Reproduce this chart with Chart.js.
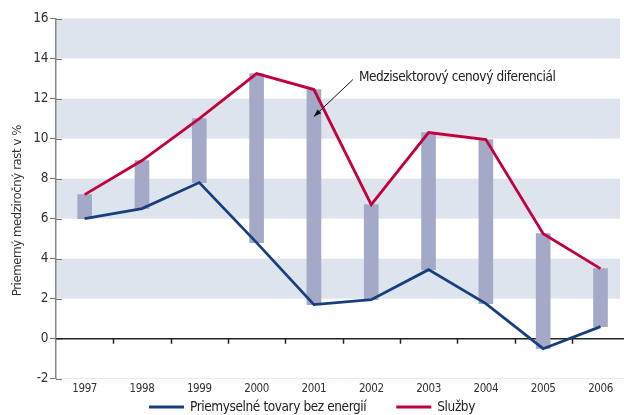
<!DOCTYPE html>
<html>
<head>
<meta charset="utf-8">
<script src="https://cdn.jsdelivr.net/npm/chart.js@4.4.0/dist/chart.umd.min.js"></script>
<style>
  body { margin: 0; background: #fff; }
  canvas { display: block; }
</style>
</head>
<body>
<canvas id="mychart" width="624" height="415"></canvas>
<script>
const years = ['1997', '1998', '1999', '2000', '2001', '2002', '2003', '2004', '2005', '2006'];
const goods = [6.0, 6.5, 7.8, 4.8, 1.7, 1.95, 3.45, 1.75, -0.5, 0.6];   // Priemyselné tovary bez energií
const services = [7.2, 8.9, 11.0, 13.25, 12.45, 6.7, 10.3, 9.95, 5.25, 3.5]; // Služby
const yTicks = [-2, 0, 2, 4, 6, 8, 10, 12, 14, 16];
const bands = [[2, 4], [6, 8], [10, 12], [14, 16]];
const yTitle = 'Priemerný medziročný rast v %';
const noteText = 'Medzisektorový cenový diferenciál';

const FONT = "'DejaVu Sans Condensed', 'Liberation Sans Narrow', sans-serif";
const SPACING = '-0.4px';

// gap between the two series, as floating bars
const gapPts = years.map((y, i) => ({ x: i, y: [goods[i], services[i]] }));
const goodsPts = goods.map((v, i) => ({ x: i, y: v }));
const servicesPts = services.map((v, i) => ({ x: i, y: v }));

// --- tighter text everywhere ---
const spacingPlugin = {
  id: 'spacing',
  beforeLayout(chart) { chart.ctx.letterSpacing = SPACING; },
  beforeDraw(chart) { chart.ctx.letterSpacing = SPACING; }
};

// --- light stripes behind the data ---
const bandsPlugin = {
  id: 'bands',
  beforeDraw(chart) {
    const { ctx, chartArea, scales } = chart;
    ctx.save();
    ctx.fillStyle = '#dee4ee';
    const right = Math.min(chartArea.right, chart.width - 4);
    bands.forEach(b => {
      const top = scales.y.getPixelForValue(b[1]);
      const bottom = scales.y.getPixelForValue(b[0]);
      ctx.fillRect(chartArea.left, top, right - chartArea.left, bottom - top);
    });
    ctx.restore();
  }
};

// --- zero line with ticks, y tick crosses, note, title, legend ---
const extrasPlugin = {
  id: 'extras',
  beforeDatasetsDraw(chart) {
    const { ctx, chartArea, scales } = chart;
    const x = scales.x, y = scales.y;
    const y0 = y.getPixelForValue(0);
    ctx.save();
    ctx.strokeStyle = '#222';
    ctx.lineWidth = 1.5;
    ctx.beginPath();
    ctx.moveTo(chartArea.left, y0);
    ctx.lineTo(chart.width, y0);
    for (let i = 1; i < years.length; i++) {
      const tx = Math.round(x.getPixelForValue(i - 0.5)) + 0.5;
      ctx.moveTo(tx, y0);
      ctx.lineTo(tx, y0 + 5);
    }
    ctx.stroke();
    // right half of the y tick marks
    ctx.strokeStyle = '#777';
    ctx.lineWidth = 1.2;
    ctx.beginPath();
    yTicks.forEach(v => {
      const ty = Math.round(y.getPixelForValue(v)) + 0.5;
      ctx.moveTo(chartArea.left, ty);
      ctx.lineTo(chartArea.left + 6, ty);
    });
    ctx.stroke();
    ctx.restore();
  },
  afterDatasetsDraw(chart) {
    const { ctx, chartArea, scales } = chart;
    const x = scales.x, y = scales.y;
    ctx.save();
    ctx.letterSpacing = SPACING;

    // arrow + note
    const tipX = x.getPixelForValue(4);
    const tipY = y.getPixelForValue(11.1);
    const sx = x.getPixelForValue(4.68);
    const sy = y.getPixelForValue(12.95);
    ctx.strokeStyle = '#111';
    ctx.fillStyle = '#111';
    ctx.lineWidth = 1;
    ctx.beginPath();
    ctx.moveTo(sx, sy);
    ctx.lineTo(tipX, tipY);
    ctx.stroke();
    const ang = Math.atan2(tipY - sy, tipX - sx);
    ctx.beginPath();
    ctx.moveTo(tipX, tipY);
    ctx.lineTo(tipX - 8 * Math.cos(ang - 0.35), tipY - 8 * Math.sin(ang - 0.35));
    ctx.lineTo(tipX - 8 * Math.cos(ang + 0.35), tipY - 8 * Math.sin(ang + 0.35));
    ctx.closePath();
    ctx.fill();
    ctx.fillStyle = '#222';
    ctx.font = '13.5px ' + FONT;
    ctx.textBaseline = 'middle';
    ctx.textAlign = 'left';
    ctx.fillText(noteText, sx + 6, y.getPixelForValue(13.05));

    // y axis title
    ctx.save();
    ctx.translate(18, y.getPixelForValue(6.4));
    ctx.rotate(-Math.PI / 2);
    ctx.textAlign = 'center';
    ctx.fillStyle = '#333';
    ctx.font = '13px ' + FONT;
    ctx.fillText(yTitle, 0, 0);
    ctx.restore();

    // legend (line datasets only)
    const items = chart.data.datasets.filter(d => d.type === 'line');
    ctx.font = '13.5px ' + FONT;
    const lineLen = 35, lineGap = 6, itemGap = 30;
    const widths = items.map(d => lineLen + lineGap + ctx.measureText(d.label).width);
    const total = widths.reduce((a, b) => a + b, 0) + itemGap * (items.length - 1);
    let lx = (chart.width - total) / 2;
    const ly = chart.height - 8;
    items.forEach((d, i) => {
      ctx.strokeStyle = d.borderColor;
      ctx.lineWidth = 3;
      ctx.beginPath();
      ctx.moveTo(lx, ly);
      ctx.lineTo(lx + lineLen, ly);
      ctx.stroke();
      ctx.fillStyle = '#222';
      ctx.fillText(d.label, lx + lineLen + lineGap, ly);
      lx += widths[i] + itemGap;
    });
    ctx.restore();
  }
};

const chart = document.getElementById('mychart').getContext('2d');
const myChart = new Chart(chart, {
  type: 'bar',
  data: {
    datasets: [{
      type: 'line',
      label: 'Priemyselné tovary bez energií',
      data: goodsPts,
      borderColor: '#173f7c',
      backgroundColor: '#173f7c',
      borderWidth: 2.8,
      pointRadius: 0,
      tension: 0,
      order: 0
    },
    {
      type: 'line',
      label: 'Služby',
      data: servicesPts,
      borderColor: '#c2003d',
      backgroundColor: '#c2003d',
      borderWidth: 2.8,
      pointRadius: 0,
      tension: 0,
      order: 1
    },
    {
      label: 'Medzisektorový cenový diferenciál',
      data: gapPts,
      backgroundColor: '#a4a9c8',
      barThickness: 14,
      order: 2
    }]
  },
  options: {
    responsive: false,
    animation: false,
    layout: { padding: { top: 18.5, right: 0, bottom: 16.5, left: 0 } },
    plugins: {
      tooltip: { enabled: false },
      legend: { display: false }
    },
    scales: {
      x: {
        type: 'linear',
        offset: false,
        min: -0.5,
        max: 9.41,
        afterBuildTicks: s => { s.ticks = years.map((yr, i) => ({ value: i })); },
        grid: { display: false, drawTicks: false },
        border: { display: true, color: '#e6e9f0' },
        ticks: {
          color: '#333',
          padding: 3,
          maxRotation: 0,
          autoSkip: false,
          callback: v => years[v],
          font: { family: FONT, size: 11.5 }
        }
      },
      y: {
        min: -2,
        max: 16,
        afterBuildTicks: s => { s.ticks = yTicks.map(v => ({ value: v })); },
        afterFit: s => { s.width = 56; },
        grid: { drawOnChartArea: false, drawTicks: true, tickLength: 6, color: '#777' },
        border: { display: true, color: '#888', width: 1.5 },
        ticks: { color: '#333', padding: 2, font: { family: FONT, size: 13.5 } }
      }
    }
  },
  plugins: [spacingPlugin, bandsPlugin, extrasPlugin]
});
</script>
</body>
</html>
